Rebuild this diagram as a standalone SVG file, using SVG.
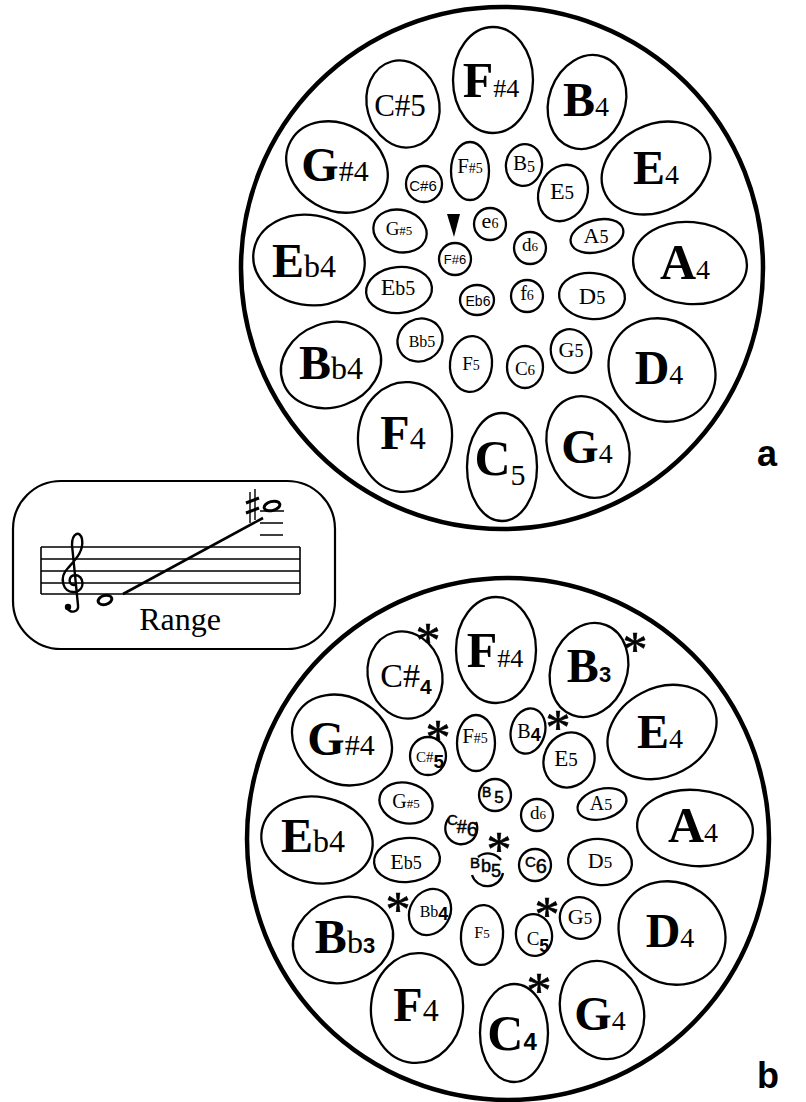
<svg xmlns="http://www.w3.org/2000/svg" width="806" height="1102" viewBox="0 0 806 1102">
  <style>
    .ring{fill:none;stroke:#000;stroke-width:4.5}
    .hole{fill:none;stroke:#000;stroke-width:2.3}
    .thin{fill:none;stroke:#000;stroke-width:1.6}
    .ink{fill:none;stroke:#000;stroke-width:2.4;stroke-linecap:round}
    text{font-family:"Liberation Serif","Times New Roman",serif;fill:#000}
    .c{text-anchor:middle}
    .bd{font-weight:bold}
    .sans{font-family:"Liberation Sans",Arial,sans-serif}
    .hand{font-family:"Liberation Sans",Arial,sans-serif;stroke:#000;stroke-width:0.5}
    .sb{font-family:"Liberation Sans",Arial,sans-serif;font-weight:bold}
    .ast{font-family:"Liberation Serif","Times New Roman",serif;font-size:50px;text-anchor:middle;stroke:#000;stroke-width:0.6}
    .tag{font-family:"Liberation Sans",Arial,sans-serif;font-weight:bold;font-size:36px}
  </style>

  <!-- ===================== Panel a ===================== -->
  <g id="panel-a">
    <circle id="a-body" class="ring" cx="502" cy="268" r="261"/>

    <!-- outer ring of note fields -->
    <g id="a-Fs4"><ellipse class="hole" cx="493" cy="80" rx="40" ry="53"/>
      <text class="c" x="491" y="97"><tspan class="bd" font-size="50">F</tspan><tspan font-size="26">#4</tspan></text></g>
    <g id="a-B4"><ellipse class="hole" cx="587" cy="102" rx="38" ry="48" transform="rotate(20 587 102)"/>
      <text class="c" x="586" y="116"><tspan class="bd" font-size="48">B</tspan><tspan font-size="28">4</tspan></text></g>
    <g id="a-E4"><ellipse class="hole" cx="656" cy="168" rx="57" ry="43" transform="rotate(-28 656 168)"/>
      <text class="c" x="656" y="184"><tspan class="bd" font-size="48">E</tspan><tspan font-size="28">4</tspan></text></g>
    <g id="a-A4"><ellipse class="hole" cx="690" cy="263" rx="57" ry="41" transform="rotate(5 690 263)"/>
      <text class="c" x="685" y="279"><tspan class="bd" font-size="50">A</tspan><tspan font-size="28">4</tspan></text></g>
    <g id="a-D4"><ellipse class="hole" cx="662" cy="370" rx="55" ry="50" transform="rotate(35 662 370)"/>
      <text class="c" x="659" y="384"><tspan class="bd" font-size="48">D</tspan><tspan font-size="28">4</tspan></text></g>
    <g id="a-G4"><ellipse class="hole" cx="588" cy="447" rx="40" ry="52" transform="rotate(-20 588 447)"/>
      <text class="c" x="587" y="463"><tspan class="bd" font-size="48">G</tspan><tspan font-size="28">4</tspan></text></g>
    <g id="a-C5"><ellipse class="hole" cx="502" cy="467" rx="35" ry="54"/>
      <text class="c" x="500" y="475"><tspan class="bd" font-size="50">C</tspan><tspan font-size="30" dy="10">5</tspan></text></g>
    <g id="a-F4"><ellipse class="hole" cx="405" cy="437" rx="47" ry="55" transform="rotate(5 405 437)"/>
      <text class="c" x="403" y="449"><tspan class="bd" font-size="48">F</tspan><tspan font-size="32">4</tspan></text></g>
    <g id="a-Bb4"><ellipse class="hole" cx="331" cy="365" rx="51" ry="42" transform="rotate(-20 331 365)"/>
      <text class="c" x="331" y="379"><tspan class="bd" font-size="48">B</tspan><tspan font-size="32">b4</tspan></text></g>
    <g id="a-Eb4"><ellipse class="hole" cx="309" cy="260" rx="56" ry="45" transform="rotate(10 309 260)"/>
      <text class="c" x="304" y="277"><tspan class="bd" font-size="48">E</tspan><tspan font-size="32">b4</tspan></text></g>
    <g id="a-Gs4"><ellipse class="hole" cx="337" cy="167" rx="53" ry="43" transform="rotate(30 337 167)"/>
      <text class="c" x="335" y="181"><tspan class="bd" font-size="48">G</tspan><tspan font-size="30">#4</tspan></text></g>
    <g id="a-Cs5"><ellipse class="hole" cx="403" cy="104" rx="36" ry="44" transform="rotate(-15 403 104)"/>
      <text class="c" x="400" y="116" font-size="31">C#5</text></g>

    <!-- middle ring -->
    <g id="a-Cs6"><circle class="hole" cx="424" cy="184" r="18"/>
      <text class="c sans" x="423" y="191" font-size="15">C#6</text></g>
    <g id="a-Fs5"><ellipse class="hole" cx="470" cy="171" rx="19" ry="29"/>
      <text class="c" x="470" y="173"><tspan font-size="21">F</tspan><tspan font-size="14">#5</tspan></text></g>
    <g id="a-B5"><ellipse class="hole" cx="524" cy="165" rx="18" ry="21" transform="rotate(10 524 165)"/>
      <text class="c" x="524" y="170"><tspan font-size="21">B</tspan><tspan font-size="16" dy="2">5</tspan></text></g>
    <g id="a-E5"><ellipse class="hole" cx="563" cy="193" rx="24" ry="29" transform="rotate(25 563 193)"/>
      <text class="c" x="562" y="199"><tspan font-size="24">E</tspan><tspan font-size="19">5</tspan></text></g>
    <g id="a-A5"><ellipse class="hole" cx="597" cy="236" rx="27" ry="16" transform="rotate(-15 597 236)"/>
      <text class="c" x="596" y="243"><tspan font-size="22">A</tspan><tspan font-size="18">5</tspan></text></g>
    <g id="a-D5"><ellipse class="hole" cx="592" cy="296" rx="33" ry="23" transform="rotate(5 592 296)"/>
      <text class="c" x="592" y="304"><tspan font-size="24">D</tspan><tspan font-size="18">5</tspan></text></g>
    <g id="a-G5"><ellipse class="hole" cx="571" cy="351" rx="20" ry="22" transform="rotate(-20 571 351)"/>
      <text class="c" x="571" y="357"><tspan font-size="22">G</tspan><tspan font-size="18">5</tspan></text></g>
    <g id="a-C6"><ellipse class="hole" cx="525" cy="367" rx="18" ry="21"/>
      <text class="c" x="525" y="375"><tspan font-size="19">C</tspan><tspan font-size="15">6</tspan></text></g>
    <g id="a-F5"><ellipse class="hole" cx="471" cy="364" rx="21" ry="28" transform="rotate(5 471 364)"/>
      <text class="c" x="471" y="370"><tspan font-size="19">F</tspan><tspan font-size="14">5</tspan></text></g>
    <g id="a-Bb5"><ellipse class="hole" cx="420" cy="340" rx="23" ry="21" transform="rotate(-30 420 340)"/>
      <text class="c" x="422" y="347" font-size="16">Bb5</text></g>
    <g id="a-Eb5"><ellipse class="hole" cx="399" cy="290" rx="33" ry="23" transform="rotate(-5 399 290)"/>
      <text class="c" x="398" y="295"><tspan font-size="24">E</tspan><tspan font-size="20">b5</tspan></text></g>
    <g id="a-Gs5"><ellipse class="hole" cx="400" cy="231" rx="27" ry="21" transform="rotate(15 400 231)"/>
      <text class="c" x="399" y="235"><tspan font-size="19">G</tspan><tspan font-size="13">#5</tspan></text></g>

    <!-- inner group -->
    <polygon id="a-marker" points="447,214 460,214 454,237" fill="#000"/>
    <g id="a-e6"><circle class="hole" cx="490" cy="224" r="16"/>
      <text class="c" x="490" y="228"><tspan font-size="22">e</tspan><tspan font-size="14">6</tspan></text></g>
    <g id="a-d6"><circle class="hole" cx="530" cy="248" r="16"/>
      <text class="c" x="530" y="251"><tspan font-size="19">d</tspan><tspan font-size="13">6</tspan></text></g>
    <g id="a-Fs6"><circle class="hole" cx="455" cy="259" r="16"/>
      <text class="c sans" x="455" y="264" font-size="13">F#6</text></g>
    <g id="a-Eb6"><ellipse class="hole" cx="477" cy="300" rx="17" ry="15"/>
      <text class="c sans" x="478" y="306" font-size="14">Eb6</text></g>
    <g id="a-f6"><circle class="hole" cx="527" cy="296" r="16"/>
      <text class="c" x="527" y="300"><tspan font-size="20">f</tspan><tspan font-size="14">6</tspan></text></g>

    <text id="a-tag" class="tag" x="757" y="466">a</text>
  </g>

  <!-- ===================== Range box ===================== -->
  <g id="range">
    <rect x="13" y="481" width="322" height="168" rx="48" ry="48" fill="none" stroke="#000" stroke-width="2.2"/>
    <!-- staff -->
    <g class="thin">
      <path d="M41 547H300M41 559H300M41 571H300M41 583H300M41 594H300M41 547V594M300 547V594"/>
      <path d="M260 511H284M260 523H283M260 535H283"/>
    </g>
    <!-- treble clef -->
    <path class="ink" d="M74 585C68 585 68 576 75 575C84 575 86 590 75 592C62 593 59 577 68 568C76 559 84 551 82 539C80 530 72 533 72 545L78 605C79 612 71 614 67 608"/>
    <circle cx="68" cy="607" r="3.2" fill="#000"/>
    <!-- notes and sweep -->
    <ellipse cx="105" cy="600" rx="7" ry="4.5" fill="none" stroke="#000" stroke-width="3" transform="rotate(-15 105 600)"/>
    <ellipse cx="272" cy="506" rx="8" ry="4.5" fill="none" stroke="#000" stroke-width="3" transform="rotate(-15 272 506)"/>
    <path d="M123 594L263 518" stroke="#000" stroke-width="2.6" fill="none"/>
    <!-- sharp -->
    <path d="M250 492V523M255 489V520" stroke="#000" stroke-width="1.4" fill="none"/>
    <path d="M246 503L259 498M246 513L259 508" stroke="#000" stroke-width="3" fill="none"/>
    <text x="180" y="630" class="c" font-size="32">Range</text>
  </g>

  <!-- ===================== Panel b ===================== -->
  <g id="panel-b">
    <circle id="b-body" class="ring" cx="508" cy="839" r="261"/>

    <g id="b-Cs4"><ellipse class="hole" cx="405" cy="675" rx="37" ry="44" transform="rotate(-15 405 675)"/>
      <text class="c" x="406" y="687"><tspan font-size="34">C#</tspan><tspan class="sb" font-size="21" dy="7">4</tspan></text></g>
    <g id="b-Fs4"><ellipse class="hole" cx="496" cy="650" rx="40" ry="53"/>
      <text class="c" x="495" y="667"><tspan class="bd" font-size="50">F</tspan><tspan font-size="26">#4</tspan></text></g>
    <g id="b-B3"><ellipse class="hole" cx="589" cy="670" rx="38" ry="48" transform="rotate(20 589 670)"/>
      <text class="c" x="589" y="682"><tspan class="bd" font-size="48">B</tspan><tspan class="sb" font-size="22">3</tspan></text></g>
    <g id="b-E4"><ellipse class="hole" cx="662" cy="732" rx="57" ry="44" transform="rotate(-28 662 732)"/>
      <text class="c" x="660" y="748"><tspan class="bd" font-size="48">E</tspan><tspan font-size="28">4</tspan></text></g>
    <g id="b-A4"><ellipse class="hole" cx="695" cy="828" rx="58" ry="38" transform="rotate(5 695 828)"/>
      <text class="c" x="693" y="842"><tspan class="bd" font-size="50">A</tspan><tspan font-size="28">4</tspan></text></g>
    <g id="b-D4"><ellipse class="hole" cx="672" cy="933" rx="55" ry="50" transform="rotate(35 672 933)"/>
      <text class="c" x="670" y="947"><tspan class="bd" font-size="48">D</tspan><tspan font-size="28">4</tspan></text></g>
    <g id="b-G4"><ellipse class="hole" cx="602" cy="1010" rx="41" ry="50" transform="rotate(-20 602 1010)"/>
      <text class="c" x="600" y="1030"><tspan class="bd" font-size="48">G</tspan><tspan font-size="28">4</tspan></text></g>
    <g id="b-C4"><ellipse class="hole" cx="514" cy="1033" rx="34" ry="49"/>
      <text class="c" x="512" y="1050"><tspan class="bd" font-size="50">C</tspan><tspan class="sb" font-size="24">4</tspan></text></g>
    <g id="b-F4"><ellipse class="hole" cx="417" cy="1008" rx="46" ry="55" transform="rotate(5 417 1008)"/>
      <text class="c" x="416" y="1021"><tspan class="bd" font-size="48">F</tspan><tspan font-size="32">4</tspan></text></g>
    <g id="b-Bb3"><ellipse class="hole" cx="343" cy="940" rx="51" ry="42" transform="rotate(-20 343 940)"/>
      <text class="c" x="345" y="953"><tspan class="bd" font-size="48">B</tspan><tspan font-size="32">b</tspan><tspan class="sb" font-size="22">3</tspan></text></g>
    <g id="b-Eb4"><ellipse class="hole" cx="317" cy="840" rx="56" ry="43" transform="rotate(10 317 840)"/>
      <text class="c" x="313" y="852"><tspan class="bd" font-size="48">E</tspan><tspan font-size="32">b4</tspan></text></g>
    <g id="b-Gs4"><ellipse class="hole" cx="342" cy="740" rx="52" ry="43" transform="rotate(30 342 740)"/>
      <text class="c" x="341" y="755"><tspan class="bd" font-size="48">G</tspan><tspan font-size="30">#4</tspan></text></g>

    <g id="b-Cs5"><ellipse class="hole" cx="428" cy="756" rx="18" ry="19"/>
      <text class="c" x="430" y="762"><tspan font-size="15">C#</tspan><tspan class="sb" font-size="19" dy="6">5</tspan></text></g>
    <g id="b-Fs5"><ellipse class="hole" cx="476" cy="743" rx="19" ry="28"/>
      <text class="c" x="475" y="743"><tspan font-size="21">F</tspan><tspan font-size="14">#5</tspan></text></g>
    <g id="b-B4"><ellipse class="hole" cx="528" cy="731" rx="17" ry="23" transform="rotate(15 528 731)"/>
      <text class="c" x="529" y="738"><tspan font-size="20">B</tspan><tspan class="sb" font-size="18" dy="3">4</tspan></text></g>
    <g id="b-E5"><ellipse class="hole" cx="569" cy="760" rx="25" ry="28" transform="rotate(25 569 760)"/>
      <text class="c" x="566" y="766"><tspan font-size="23">E</tspan><tspan font-size="19">5</tspan></text></g>
    <g id="b-Gs5"><ellipse class="hole" cx="406" cy="803" rx="27" ry="20" transform="rotate(15 406 803)"/>
      <text class="c" x="406" y="808"><tspan font-size="20">G</tspan><tspan font-size="13">#5</tspan></text></g>
    <g id="b-B5"><circle class="hole" cx="495" cy="795" r="16"/>
      <text class="hand" x="482" y="797"><tspan font-size="14">B</tspan><tspan font-size="17" dx="3" dy="6">5</tspan></text></g>
    <g id="b-d6"><circle class="hole" cx="537" cy="815" r="16"/>
      <text class="c" x="538" y="819"><tspan font-size="19">d</tspan><tspan font-size="13">6</tspan></text></g>
    <g id="b-A5"><ellipse class="hole" cx="602" cy="804" rx="25" ry="15" transform="rotate(-15 602 804)"/>
      <text class="c" x="601" y="810"><tspan font-size="20">A</tspan><tspan font-size="16">5</tspan></text></g>
    <g id="b-Eb5"><ellipse class="hole" cx="407" cy="860" rx="33" ry="22" transform="rotate(-5 407 860)"/>
      <text class="c" x="406" y="869"><tspan font-size="22">E</tspan><tspan font-size="18">b5</tspan></text></g>
    <!-- hand-lettered fields, rings left partly open -->
    <g id="b-Cs6"><path class="hole" d="M449 818A16 16 0 1 0 476 822"/>
      <text class="hand" x="447" y="825"><tspan font-size="15">C</tspan><tspan font-size="18" dx="-1" dy="8">#</tspan><tspan font-size="20" dy="3">6</tspan></text></g>
    <g id="b-Bb5"><path class="hole" d="M472 875A16 16 0 0 0 503 873M478 857A16 16 0 0 1 501 860"/>
      <text class="hand" x="470" y="868"><tspan font-size="15">B</tspan><tspan font-size="18" dx="1" dy="4">b</tspan><tspan font-size="18" dy="5">5</tspan></text></g>
    <g id="b-C6"><circle class="hole" cx="535" cy="865" r="16"/>
      <text class="hand" x="525" y="867"><tspan font-size="15">C</tspan><tspan font-size="20" dy="6">6</tspan></text></g>
    <g id="b-D5"><ellipse class="hole" cx="600" cy="862" rx="32" ry="23" transform="rotate(5 600 862)"/>
      <text class="c" x="600" y="868"><tspan font-size="22">D</tspan><tspan font-size="17">5</tspan></text></g>
    <g id="b-Bb4"><ellipse class="hole" cx="430" cy="912" rx="20" ry="24" transform="rotate(30 430 912)"/>
      <text class="c" x="434" y="917"><tspan font-size="16">Bb</tspan><tspan class="sb" font-size="18" dy="3">4</tspan></text></g>
    <g id="b-F5"><ellipse class="hole" cx="482" cy="935" rx="21" ry="30" transform="rotate(5 482 935)"/>
      <text class="c" x="482" y="938"><tspan font-size="16">F</tspan><tspan font-size="13">5</tspan></text></g>
    <g id="b-C5"><ellipse class="hole" cx="534" cy="935" rx="18" ry="21" transform="rotate(-10 534 935)"/>
      <text class="c" x="538" y="945"><tspan font-size="19">C</tspan><tspan class="sb" font-size="18" dy="7">5</tspan></text></g>
    <g id="b-G5"><ellipse class="hole" cx="580" cy="918" rx="20" ry="21" transform="rotate(-20 580 918)"/>
      <text class="c" x="580" y="924"><tspan font-size="22">G</tspan><tspan font-size="17">5</tspan></text></g>

    <!-- asterisks flag the changed fields -->
    <g id="b-asterisks">
      <text class="ast" x="428" y="657">*</text>
      <text class="ast" x="635" y="666">*</text>
      <text class="ast" x="558" y="744">*</text>
      <text class="ast" x="438" y="754">*</text>
      <text class="ast" x="499" y="866">*</text>
      <text class="ast" x="398" y="926">*</text>
      <text class="ast" x="547" y="931">*</text>
      <text class="ast" x="539" y="1007">*</text>
    </g>

    <text id="b-tag" class="tag" x="757" y="1088">b</text>
  </g>
</svg>
